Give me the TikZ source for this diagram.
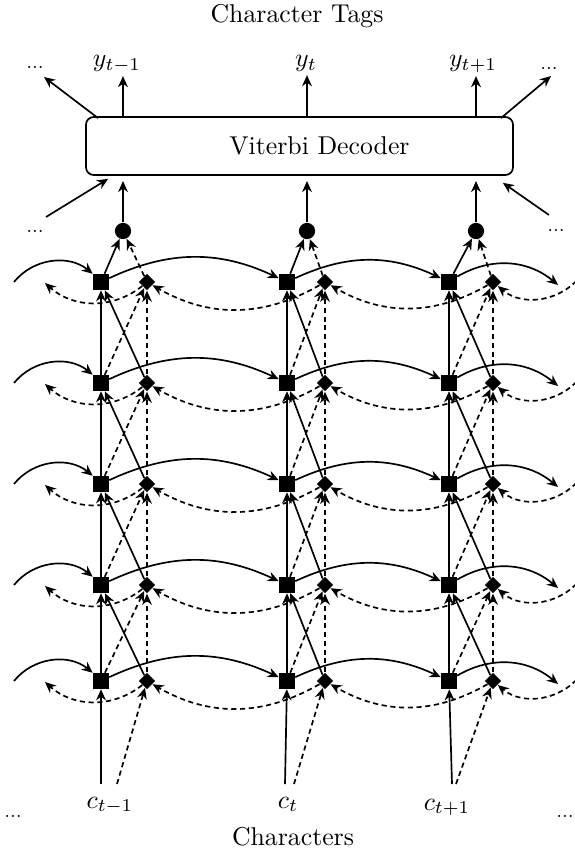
\documentclass[tikz,border=0pt]{standalone}
\usetikzlibrary{arrows.meta,shapes.geometric}
\begin{document}
\begin{tikzpicture}[x=0.388pt,y=-0.388pt,
  sqn/.style={rectangle,fill=black,minimum size=6pt,inner sep=0pt},
  dmn/.style={diamond,fill=black,minimum size=6.4pt,inner sep=0pt},
  dotn/.style={circle,fill=black,minimum size=6.3pt,inner sep=0pt},
  tip/.style={-{Stealth[length=4.3pt,width=3.8pt,inset=1.4pt]}},
  fw/.style={tip,line width=0.65pt},
  bw/.style={tip,line width=0.65pt,dash pattern=on 2pt off 1.4pt},
  ell/.style={font=\scriptsize,inner sep=0pt,anchor=base},
  lab/.style={inner sep=1pt,anchor=base},
]
\useasboundingbox (0,0) rectangle (574,852);
% titles
\node[lab] (tt) at (297,23) {Character Tags};
\node[lab] (tb) at (293,845) {Characters};
% output labels
\node[lab] (y1) at (117,67) {$y_{t-1}$};
\node[lab] (y2) at (306,67) {$y_t$};
\node[lab] (y3) at (473,67) {$y_{t+1}$};
% decoder box
\node[draw,line width=0.65pt,rounded corners=3pt,minimum width=165.7pt,minimum height=22.5pt,inner sep=0pt] (vd) at (299.5,146) {\hspace*{15.5pt}Viterbi Decoder};
% ellipses
\node[ell] (e1) at (35,69) {...};
\node[ell] (e2) at (549,70) {...};
\node[ell] (e3) at (35,232) {...};
\node[ell] (e4) at (556,231) {...};
\node[ell] (e5) at (13,817) {...};
\node[ell] (e6) at (565,817) {...};
% side arrows around the box
\coordinate (tl) at (44,77);
\coordinate (tr) at (551,76);
\coordinate (bl) at (46,217);
\coordinate (br) at (549,215);
\draw[fw] ([shift={(13,2)}]vd.north west) -- (tl);
\draw[fw] ([shift={(-13,2)}]vd.north east) -- (tr);
\draw[fw] (bl) -- ([shift={(23,3)}]vd.south west);
\draw[fw] (br) -- ([shift={(-11,7)}]vd.south east);
% lattice nodes
\foreach \r/\yy in {1/282,2/383,3/484,4/585,5/681} {
  \foreach \c/\sx/\dx in {1/101/147,2/287/325,3/449/493} {
    \node[sqn] (s\r\c) at (\sx,\yy) {};
    \node[dmn] (d\r\c) at (\dx,\yy) {};
  }
  \coordinate (L\r) at (14,\yy);
  \coordinate (R\r) at (558,\yy+3);
  \coordinate (LL\r) at (45,\yy+1);
  \coordinate (RR\r) at (582,\yy-8);
}
% circles and top connections
\foreach \c/\x in {1/123,2/307,3/476} {
  \node[dotn] (o\c) at (\x,231) {};
  \draw[fw] (s1\c) -- (o\c);
  \draw[bw] (d1\c) -- (o\c);
  \draw[fw] (o\c) -- ([yshift=-2pt]o\c |- vd.south);
  \draw[fw] (o\c |- vd.north) -- (o\c |- y\c.south);
}
% horizontal recurrences
\foreach \r in {1,...,5} {
  \draw[fw] (L\r) to[bend left=45] (s\r1);
  \draw[fw] (s\r1) to[bend left=25] (s\r2);
  \draw[fw] (s\r2) to[bend left=25] (s\r3);
  \draw[fw] (s\r3) to[bend left=35] (R\r);
  \draw[bw] (RR\r) to[out=235,in=-40] (d\r3);
  \draw[bw] (d\r3) to[bend left=30] (d\r2);
  \draw[bw] (d\r2) to[bend left=30] (d\r1);
  \draw[bw] (d\r1) to[bend left=40] (LL\r);
}
% vertical connections between layers
\foreach \r/\n in {1/2,2/3,3/4,4/5} {
  \foreach \c in {1,2,3} {
    \draw[fw] (s\n\c) -- (s\r\c);
    \draw[fw] (d\n\c) -- (s\r\c);
    \draw[bw] (s\n\c) -- (d\r\c);
    \draw[bw] (d\n\c) -- (d\r\c);
  }
}
% inputs
\node[lab] (c1) at (110,808) {$c_{t-1}$};
\node[lab] (c2) at (288,808) {$c_t$};
\node[lab] (c3) at (447,810) {$c_{t+1}$};
\coordinate (cs1) at (101,784);
\coordinate (cd1) at (117,784);
\coordinate (cs2) at (285,784);
\coordinate (cd2) at (294,784);
\coordinate (cs3) at (452,784);
\coordinate (cd3) at (456,784);
\foreach \c in {1,2,3} {
  \draw[fw] (cs\c) -- (s5\c);
  \draw[bw] (cd\c) -- (d5\c);
}
\end{tikzpicture}
\end{document}
